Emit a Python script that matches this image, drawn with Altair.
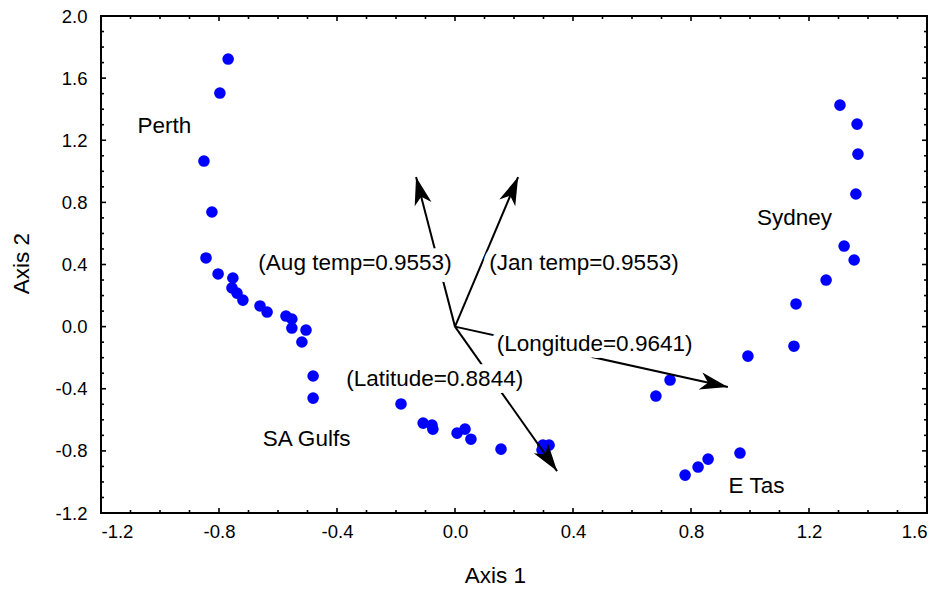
import math
import altair as alt
import pandas as pd

# ---------------- data ----------------
axis1 = [-0.769, -0.797, -0.851, -0.824, -0.844, -0.803, -0.753, -0.756, -0.739, -0.719,
         -0.661, -0.637, -0.573, -0.553, -0.553, -0.505, -0.519, -0.481, -0.481,
         -0.183, -0.108, -0.078, -0.075, 0.007, 0.034, 0.054, 0.156, 0.298, 0.319, 0.295,
         0.681, 0.729, 0.993, 1.149, 1.156, 1.258, 1.319, 1.353, 1.359, 1.366, 1.363, 1.305,
         0.780, 0.824, 0.858, 0.966]
axis2 = [1.723, 1.504, 1.066, 0.738, 0.442, 0.339, 0.313, 0.249, 0.216, 0.171,
         0.133, 0.094, 0.068, 0.049, -0.009, -0.022, -0.099, -0.318, -0.460,
         -0.498, -0.621, -0.634, -0.660, -0.686, -0.660, -0.725, -0.789, -0.763, -0.763, -0.795,
         -0.447, -0.344, -0.190, -0.126, 0.146, 0.300, 0.519, 0.429, 0.854, 1.111, 1.304, 1.426,
         -0.956, -0.904, -0.853, -0.814]

vec_names = ["Aug temp", "Jan temp", "Longitude", "Latitude"]
vec_x = [-0.132, 0.214, 0.925, 0.346]
vec_y = [0.963, 0.963, -0.389, -0.930]

vec_labels = ["(Aug temp=0.9553)", "(Jan temp=0.9553)", "(Longitude=0.9641)", "(Latitude=0.8844)"]
vec_label_x = [-0.339, 0.437, 0.473, -0.069]
vec_label_y = [0.410, 0.410, -0.112, -0.337]

site_names = ["Perth", "Sydney", "SA Gulfs", "E Tas"]
site_x = [-0.985, 1.151, -0.503, 1.022]
site_y = [1.290, 0.700, -0.724, -1.026]

major_ticks_x = [-1.2, -0.8, -0.4, 0.0, 0.4, 0.8, 1.2, 1.6]
minor_ticks_x = [-1.1, -1.0, -0.9, -0.7, -0.6, -0.5, -0.3, -0.2, -0.1,
                 0.1, 0.2, 0.3, 0.5, 0.6, 0.7, 0.9, 1.0, 1.1, 1.3, 1.4, 1.5]
major_ticks_y = [-1.2, -0.8, -0.4, 0.0, 0.4, 0.8, 1.2, 1.6, 2.0]
minor_ticks_y = [-1.1, -1.0, -0.9, -0.7, -0.6, -0.5, -0.3, -0.2, -0.1,
                 0.1, 0.2, 0.3, 0.5, 0.6, 0.7, 0.9, 1.0, 1.1, 1.3, 1.4, 1.5,
                 1.7, 1.8, 1.9]

# ---------------- layout ----------------
W, H = 826, 497
XDOM = [-1.2, 1.6]
YDOM = [-1.2, 2.0]
px_per_x = W / (XDOM[1] - XDOM[0])
px_per_y = H / (YDOM[1] - YDOM[0])

AXF = "Liberation Sans, Arial, sans-serif"
REG = "Liberation Sans, Arial, sans-serif"

label_expr = "(datum.value < 0 ? '-' : '') + format(abs(datum.value), '.1f')"
xaxis = alt.Axis(values=major_ticks_x, labelExpr=label_expr, tickSize=0, domain=False, grid=False,
                 labelFont=AXF, labelFontSize=18.5, labelColor="black", labelPadding=9,
                 title="Axis 1", titleFont=AXF, titleFontSize=22.5, titleFontWeight="normal",
                 titleColor="black", titleX=394, titleY=62, titleBaseline="middle")
yaxis = alt.Axis(values=major_ticks_y, labelExpr=label_expr, tickSize=0, domain=False, grid=False,
                 labelFont=AXF, labelFontSize=18.5, labelColor="black", labelPadding=14,
                 title="Axis 2", titleFont=AXF, titleFontSize=22.5, titleFontWeight="normal",
                 titleColor="black", titleX=-80, titleY=247, titleBaseline="middle")
xs = alt.Scale(domain=XDOM, nice=False, zero=False)
ys = alt.Scale(domain=YDOM, nice=False, zero=False)


def X(f="x"):
    return alt.X(f"{f}:Q", scale=xs, axis=xaxis)


def Y(f="y"):
    return alt.Y(f"{f}:Q", scale=ys, axis=yaxis)


pts = pd.DataFrame({"x": axis1, "y": axis2})
vecs = pd.DataFrame({"name": vec_names, "x": [0.0] * 4, "y": [0.0] * 4, "x2": vec_x, "y2": vec_y})
heads = pd.DataFrame({
    "x": vec_x, "y": vec_y,
    "ang": [(math.degrees(math.atan2(dx * px_per_x, dy * px_per_y)) + 360) % 360 for dx, dy in zip(vec_x, vec_y)],
})
vlabels = pd.DataFrame({"x": vec_label_x, "y": vec_label_y, "t": vec_labels})
slabels = pd.DataFrame({"x": site_x, "y": site_y, "t": site_names})

points = alt.Chart(pts).mark_circle(size=135, color="#0000FF", opacity=1).encode(x=X(), y=Y())

lines = alt.Chart(vecs).mark_rule(color="black", strokeWidth=2).encode(
    x=X(), y=Y(), x2="x2:Q", y2="y2:Q")

HEAD = "M0,0 L0.62,2 L0,1.45 L-0.62,2 Z"
arrowheads = alt.Chart(heads).mark_point(shape=HEAD, filled=True, color="black", opacity=1,
                                         size=784, strokeWidth=0).encode(
    x=X(), y=Y(), angle=alt.Angle("ang:Q", scale=None))

halo = alt.Chart(vlabels).mark_text(font=REG, fontSize=22.5, color="white", stroke="white",
                                    strokeWidth=14, strokeJoin="round", baseline="middle").encode(
    x=X(), y=Y(), text="t:N")
vtext = alt.Chart(vlabels).mark_text(font=REG, fontSize=22.5, color="black", baseline="middle").encode(
    x=X(), y=Y(), text="t:N")
stext = alt.Chart(slabels).mark_text(font=REG, fontSize=22.5, color="black", baseline="middle").encode(
    x=X(), y=Y(), text="t:N")

# inward ticks on all four sides
mx = pd.DataFrame({"x": major_ticks_x})
nx = pd.DataFrame({"x": minor_ticks_x})
my = pd.DataFrame({"y": major_ticks_y})
ny = pd.DataFrame({"y": minor_ticks_y})
tick_layers = []
for df, ln in [(mx, 5), (nx, 3)]:
    tick_layers.append(alt.Chart(df).mark_rule(color="black", strokeWidth=1.6).encode(
        x=X(), y=alt.value(H), y2=alt.value(H - ln)))
    tick_layers.append(alt.Chart(df).mark_rule(color="black", strokeWidth=1.6).encode(
        x=X(), y=alt.value(0), y2=alt.value(ln)))
for df, ln in [(my, 5), (ny, 3)]:
    tick_layers.append(alt.Chart(df).mark_rule(color="black", strokeWidth=1.6).encode(
        y=Y(), x=alt.value(0), x2=alt.value(ln)))
    tick_layers.append(alt.Chart(df).mark_rule(color="black", strokeWidth=1.6).encode(
        y=Y(), x=alt.value(W), x2=alt.value(W - ln)))

chart = alt.layer(points, lines, arrowheads, halo, vtext, stext, *tick_layers).properties(
    width=W, height=H,
    autosize=alt.AutoSizeParams(type="none"),
    padding={"left": 101, "top": 16, "right": 12, "bottom": 76},
    background="white",
).configure_view(stroke="black", strokeWidth=2)

chart.save("out.html", embed_options={"renderer": "svg", "actions": False})
